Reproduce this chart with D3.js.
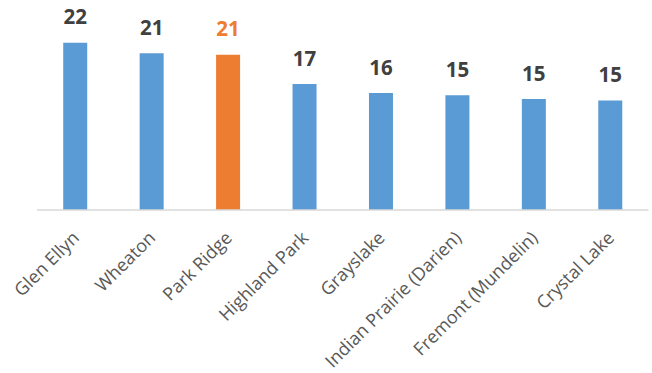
<!DOCTYPE html>
<html>
<head>
<meta charset="utf-8">
<script src="https://cdn.jsdelivr.net/npm/d3@7"></script>
<style>
  body { margin: 0; background: #fff; }
  svg { display: block; font-family: "Open Sans", sans-serif; }
  .value-label { font-weight: bold; font-size: 20.5px; text-anchor: middle; }
  .cat-label { font-size: 18px; fill: #595959; text-anchor: end; }
</style>
</head>
<body>
<div id="chart"></div>
<script>
const categories = ["Glen Ellyn", "Wheaton", "Park Ridge", "Highland Park", "Grayslake",
  "Indian Prairie (Darien)", "Fremont (Mundelin)", "Crystal Lake"];
const values = [22.3, 20.9, 20.7, 16.8, 15.6, 15.3, 14.8, 14.6];
const highlight = "Park Ridge";

const width = 652;
const height = 373;
const plot = { left: 37, right: 648.5, bottom: 210, top: 22.5 };

const svg = d3.select("#chart")
  .append("svg")
  .attr("width", width)
  .attr("height", height);

const xScale = d3.scaleBand()
  .domain(categories)
  .range([plot.left, plot.right])
  .paddingInner(0.686)
  .paddingOuter(0.343);

const yScale = d3.scaleLinear()
  .domain([0, 25])
  .range([plot.bottom, plot.top]);

const barColor = d => d === highlight ? "#ED7D31" : "#5B9BD5";

// Bars
svg.selectAll(".bar")
  .data(categories)
  .enter().append("rect")
    .attr("class", "bar")
    .attr("x", d => xScale(d))
    .attr("y", (d, i) => yScale(values[i]))
    .attr("width", xScale.bandwidth())
    .attr("height", (d, i) => yScale(0) - yScale(values[i]))
    .attr("fill", barColor);

// Category axis line
svg.append("line")
  .attr("x1", plot.left)
  .attr("x2", plot.right)
  .attr("y1", plot.bottom)
  .attr("y2", plot.bottom)
  .attr("stroke", "#d9d9d9")
  .attr("stroke-width", 1.5);

// Value labels
svg.selectAll(".value-label")
  .data(categories)
  .enter().append("text")
    .attr("class", "value-label")
    .attr("x", d => xScale(d) + xScale.bandwidth() / 2)
    .attr("y", (d, i) => yScale(values[i]) - 18.5)
    .attr("fill", d => d === highlight ? "#ED7D31" : "#404040")
    .text((d, i) => d3.format(".0f")(values[i]));

// Category labels, rotated
svg.selectAll(".cat-label")
  .data(categories)
  .enter().append("text")
    .attr("class", "cat-label")
    .attr("transform", d => `translate(${xScale(d) + xScale.bandwidth() / 2 + 5},239) rotate(-45)`)
    .text(d => d);
</script>
</body>
</html>
